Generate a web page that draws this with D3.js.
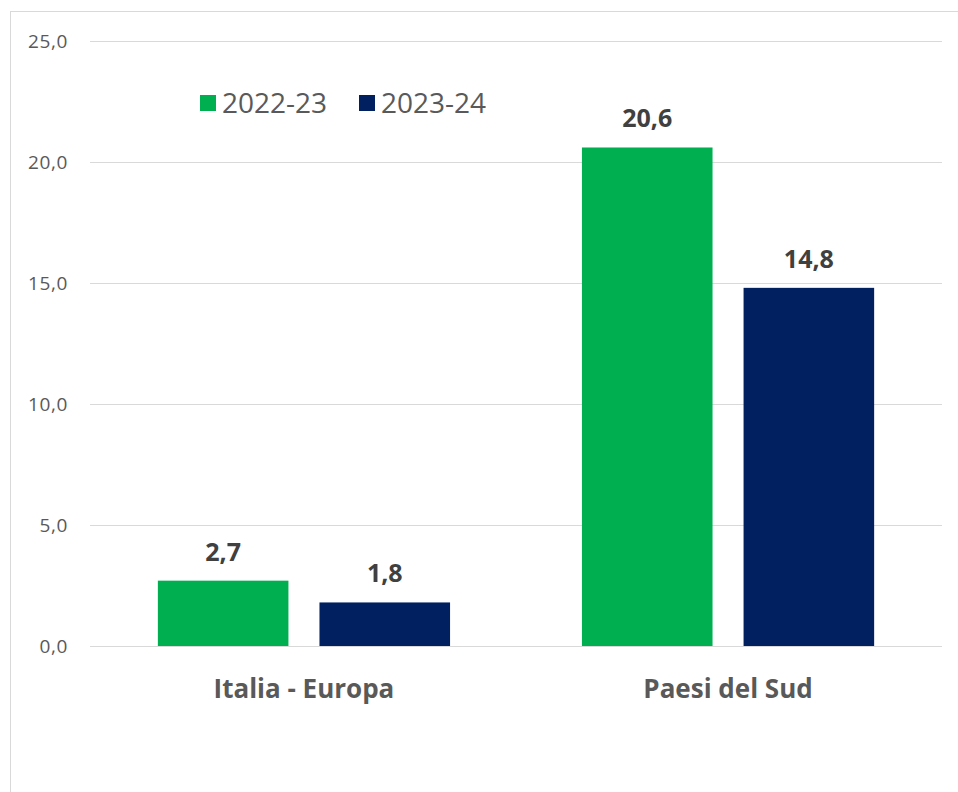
<!DOCTYPE html>
<html><head><meta charset="utf-8">
<script src="https://cdn.jsdelivr.net/npm/d3@7"></script>
<style>html,body{margin:0;padding:0;background:#fff;}svg{display:block;}</style>
</head><body>
<script>
const categories = ["Italia - Europa", "Paesi del Sud"];
const seriesNames = ["2022-23", "2023-24"];
const values2022 = [2.7, 20.6];
const values2023 = [1.8, 14.8];
const yTicks = [0, 5, 10, 15, 20, 25];
const colors = ["#00B050", "#002060"];

(function () {
const W = 958, H = 792;
const svg = d3.select("body").append("svg").attr("width", W).attr("height", H);
const font = "'Open Sans', 'Liberation Sans', sans-serif";

svg.append("rect").attr("x", 10.5).attr("y", 11.5).attr("width", 960).attr("height", 800)
  .attr("fill", "none").attr("stroke", "#d9d9d9").attr("stroke-width", 1);

const mLeft = 90, mRight = 942, mTop = 41, mBottom = 646;
const y = d3.scaleLinear().domain([0, 25]).range([mBottom, mTop]);
const x0 = d3.scaleBand().domain(categories).range([mLeft, mRight]).paddingInner(0.311).paddingOuter(0.16);
const x1 = d3.scaleBand().domain(seriesNames).range([0, x0.bandwidth()]).paddingInner(0.192);

const yAxis = d3.axisLeft(y).tickValues(yTicks).tickSize(-(mRight - mLeft))
  .tickFormat(d => d3.format(".1f")(d).replace(".", ","));
const ga = svg.append("g").attr("transform", `translate(${mLeft},0)`).call(yAxis);
ga.select(".domain").remove();
ga.selectAll(".tick line").attr("stroke", "#d9d9d9").attr("stroke-width", 1.2);
ga.selectAll(".tick text").attr("x", -22).attr("fill", "#595959")
  .style("font-family", font).style("font-size", "19px").style("letter-spacing", "0.6px");

const data = categories.map((c, i) => ({cat: c, vals: [values2022[i], values2023[i]]}));
const groups = svg.append("g").selectAll("g").data(data).join("g")
  .attr("transform", d => `translate(${x0(d.cat)},0)`);
groups.selectAll("rect").data(d => d.vals.map((v, j) => ({s: seriesNames[j], v, j})))
  .join("rect")
  .attr("x", d => x1(d.s)).attr("width", x1.bandwidth())
  .attr("y", d => y(d.v)).attr("height", d => y(0) - y(d.v))
  .attr("fill", d => colors[d.j]);
groups.selectAll("text.val").data(d => d.vals.map((v, j) => ({s: seriesNames[j], v, j})))
  .join("text").attr("class", "val")
  .attr("x", d => x1(d.s) + x1.bandwidth() / 2).attr("y", d => y(d.v) - 20)
  .attr("text-anchor", "middle").attr("fill", "#404040")
  .style("font-family", font).style("font-size", "25px").style("font-weight", "bold")
  .text(d => d3.format(".1f")(d.v).replace(".", ","));

svg.append("g").selectAll("text").data(categories).join("text")
  .attr("x", d => x0(d) + x0.bandwidth() / 2).attr("y", 698)
  .attr("text-anchor", "middle").attr("fill", "#595959")
  .style("font-family", font).style("font-size", "26px").style("font-weight", "bold")
  .text(d => d);

const legendX = [200, 359];
const lg = svg.append("g").selectAll("g").data(seriesNames).join("g")
  .attr("transform", (d, i) => `translate(${legendX[i]},95)`);
lg.append("rect").attr("width", 16).attr("height", 16).attr("fill", (d, i) => colors[i]);
lg.append("text").attr("x", 22).attr("y", 18).attr("fill", "#595959")
  .style("font-family", font).style("font-size", "28px").text(d => d);
})();
</script>
</body></html>
